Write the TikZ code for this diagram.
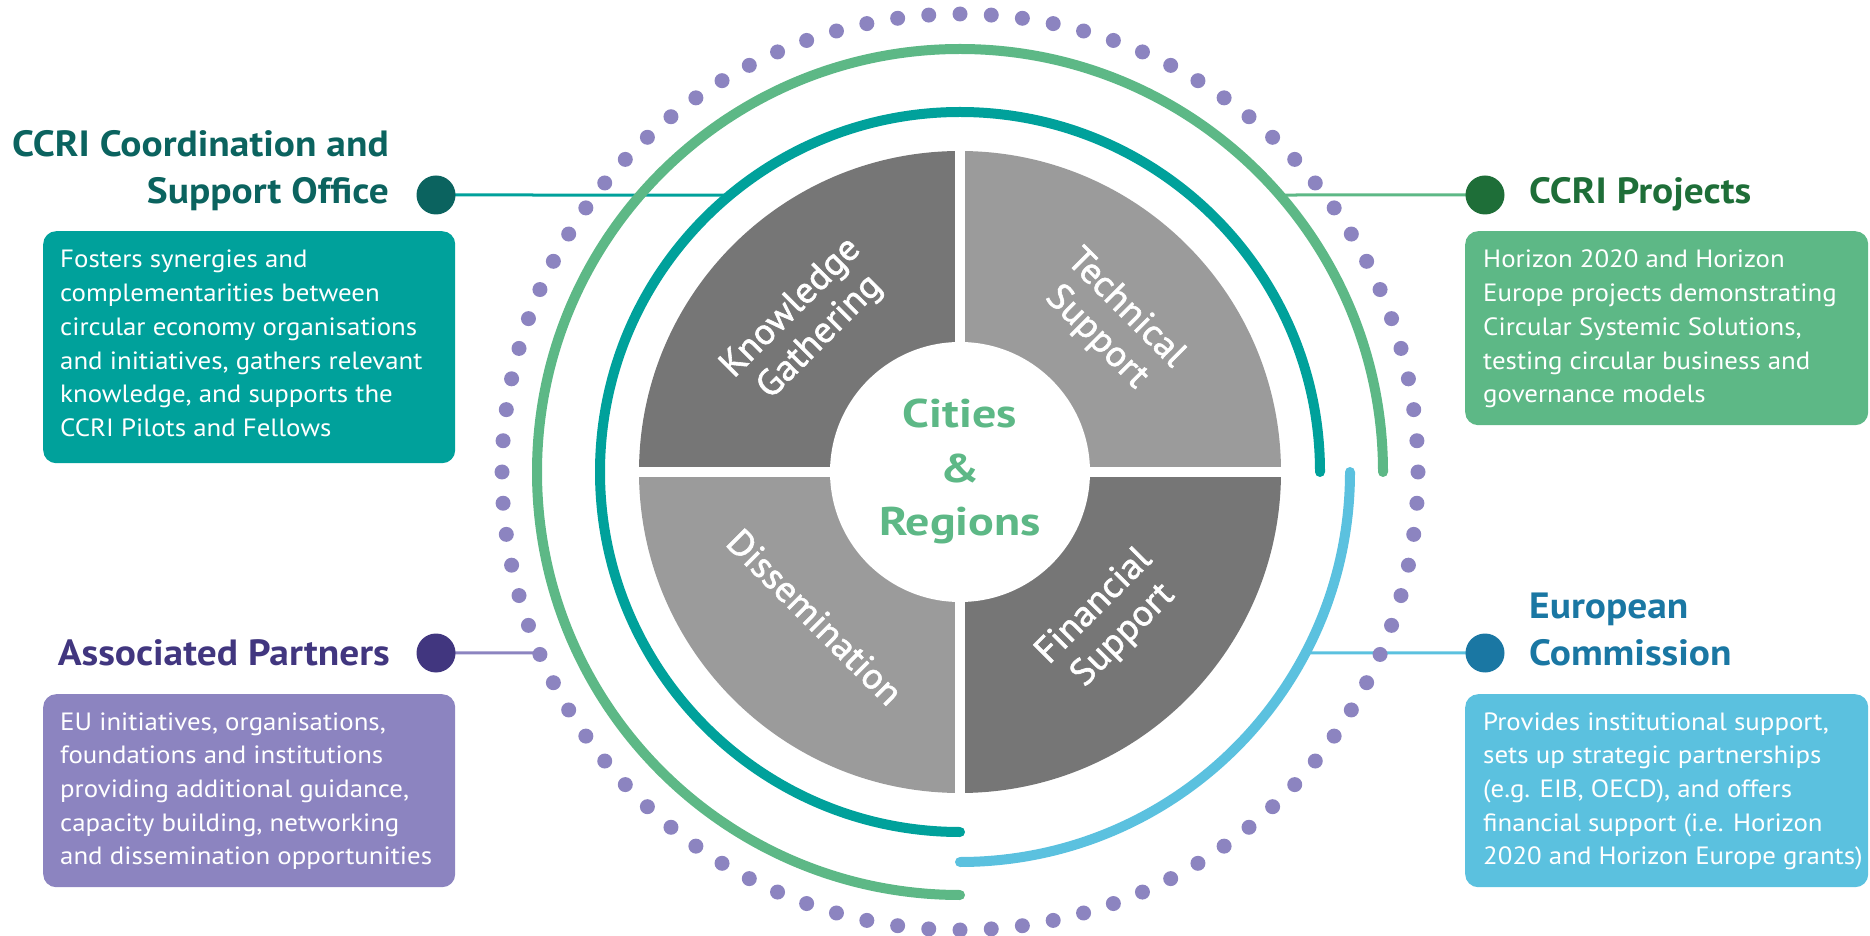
\documentclass[tikz,border=0pt]{standalone}
\usepackage{fontspec}
\setmainfont{PT Sans}
\newfontfamily\ttlfont{PT Sans}[UprightFont=* Bold, FakeStretch=1.08]
\newfontfamily\bodyfont{PT Sans}[FakeStretch=1.075]
\newfontfamily\hubfont{PT Sans}[UprightFont=* Bold, FakeStretch=1.2]
\newfontfamily\piefont{PT Sans}[FakeBold=1.6, FakeStretch=1.04]
\usetikzlibrary{calc}
\definecolor{cTeal}{HTML}{00A19B}
\definecolor{cTealDark}{HTML}{0B635F}
\definecolor{cGreen}{HTML}{5DB886}
\definecolor{cGreenDark}{HTML}{1E6E38}
\definecolor{cPurple}{HTML}{8C84C0}
\definecolor{cPurpleDark}{HTML}{41367F}
\definecolor{cBlue}{HTML}{5BC1DF}
\definecolor{cBlueDark}{HTML}{1A77A3}
\definecolor{cPieDark}{HTML}{767676}
\definecolor{cPieLight}{HTML}{9B9B9B}
\begin{document}
\begin{tikzpicture}[x=1pt,y=1pt,
  ring/.style={line width=10pt, line cap=round},
  link/.style={line width=3pt},
  hub/.style={circle, inner sep=0pt, minimum size=39pt},
  infobox/.style={rectangle, rounded corners=13pt, inner sep=0pt, anchor=north west},
  boxline/.style={text=white, font=\bodyfont\fontsize{25}{30}\selectfont, inner sep=0pt, anchor=base west},
  ttl/.style={font=\ttlfont\fontsize{36.5}{44}\selectfont, inner sep=0pt},
  pielbl/.style={text=white, font=\piefont\fontsize{36.5}{41}\selectfont, align=center, inner sep=0pt},
  hubtxt/.style={text=cGreen, font=\hubfont\fontsize{40}{54}\selectfont, inner sep=0pt, anchor=base}
]
\useasboundingbox (0,0) rectangle (1870,935);
\coordinate (C) at (960,463);

% pie
\fill[cPieDark] (C) -- ++(90:321) arc (90:180:321) -- cycle;
\fill[cPieLight] (C) -- ++(0:321) arc (0:90:321) -- cycle;
\fill[cPieLight] (C) -- ++(180:321) arc (180:270:321) -- cycle;
\fill[cPieDark] (C) -- ++(270:321) arc (270:360:321) -- cycle;
\draw[white, line width=10pt] ($(C)+(-330,0)$) -- ($(C)+(330,0)$);
\draw[white, line width=10pt] ($(C)+(0,-330)$) -- ($(C)+(0,330)$);
\fill[white] (C) circle (130);

% connector points
\coordinate (officeP) at (436,740);
\coordinate (projP) at (1485,740);
\coordinate (partP) at (436,282);
\coordinate (ecP) at (1485,282);
\coordinate (officeend) at ($(C)+({180-asin(277/360)}:360)$);
\coordinate (projend) at ($(C)+({asin(277/423)}:423)$);
\coordinate (partend) at ($(C)+({180+asin(181/458)}:458)$);
\coordinate (ecend) at ($(C)+({-asin(181/390)}:390)$);
\draw[link, cTeal] (officeP) -- (officeend);
\draw[link, cGreen] (projP) -- (projend);
\draw[link, cPurple] (partP) -- (partend);
\draw[link, cBlue] (ecP) -- (ecend);

% rings
\draw[ring, cTeal] ($(C)+(0:360)$) arc (0:270:360);
\draw[ring, cGreen] ($(C)+(0:423)$) arc (0:270:423);
\draw[ring, cBlue] ($(C)+(-90:390)$) arc (-90:0:390);
\foreach \i in {0,...,91} \fill[cPurple] ($(C)+({3.913043*\i}:458)$) circle (7.5);

% hubs
\node[hub, fill=cTealDark] (officehub) at (officeP) {};
\node[hub, fill=cGreenDark] (projhub) at (projP) {};
\node[hub, fill=cPurpleDark] (parthub) at (partP) {};
\node[hub, fill=cBlueDark] (echub) at (ecP) {};

% titles
\node[ttl, text=cTealDark, anchor=base east] (officeT1) at (389,778) {CCRI Coordination and};
\node[ttl, text=cTealDark, anchor=base east] (officeT2) at (389,731) {Support Office};
\node[ttl, text=cGreenDark, anchor=base west] (projT) at (1529,731) {CCRI Projects};
\node[ttl, text=cPurpleDark, anchor=base east] (partT) at (390,270) {Associated Partners};
\node[ttl, text=cBlueDark, anchor=base west] (ecT1) at (1529,317) {European};
\node[ttl, text=cBlueDark, anchor=base west] (ecT2) at (1529,270) {Commission};

% boxes
\node[infobox, fill=cTeal, minimum width=412pt, minimum height=232pt] (officebox) at (43,704) {};
\node[infobox, fill=cGreen, minimum width=403pt, minimum height=194pt] (projbox) at (1465,704) {};
\node[infobox, fill=cPurple, minimum width=412pt, minimum height=193pt] (partbox) at (43,241) {};
\node[infobox, fill=cBlue, minimum width=403pt, minimum height=193pt] (ecbox) at (1465,241) {};

\foreach [count=\k] \t in {Fosters synergies and, complementarities between, circular economy organisations, {and initiatives, gathers relevant}, {knowledge, and supports the}, CCRI Pilots and Fellows}
  \node[boxline] (officeL\k) at (60,{667-(\k-1)*33.7}) {\t};
\foreach [count=\k] \t in {Horizon 2020 and Horizon, Europe projects demonstrating, {Circular Systemic Solutions,}, testing circular business and, governance models}
  \node[boxline] (projL\k) at (1483,{667-(\k-1)*33.7}) {\t};
\foreach [count=\k] \t in {{EU initiatives, organisations,}, foundations and institutions, {providing additional guidance,}, {capacity building, networking}, and dissemination opportunities}
  \node[boxline] (partL\k) at (60,{205-(\k-1)*33.7}) {\t};
\foreach [count=\k] \t in {{Provides institutional support,}, sets up strategic partnerships, {(e.g. EIB, OECD), and offers}, financial support (i.e. Horizon, 2020 and Horizon Europe grants)}
  \node[boxline] (ecL\k) at (1483,{205-(\k-1)*33.7}) {\t};

% pie labels
\node[pielbl, rotate=45] (kg) at (806,612) {Knowledge\\Gathering};
\node[pielbl, rotate=-45] (ts) at (1111,612) {Technical\\Support};
\node[pielbl, rotate=-45] (dis) at (815,318) {Dissemination};
\node[pielbl, rotate=45] (fs) at (1109,314) {Financial\\Support};

% centre
\node[hubtxt] (cities) at (960,507) {Cities};
\node[hubtxt] (amp) at (960,452) {\&};
\node[hubtxt] (regions) at (960,399) {Regions};
\end{tikzpicture}
\end{document}
